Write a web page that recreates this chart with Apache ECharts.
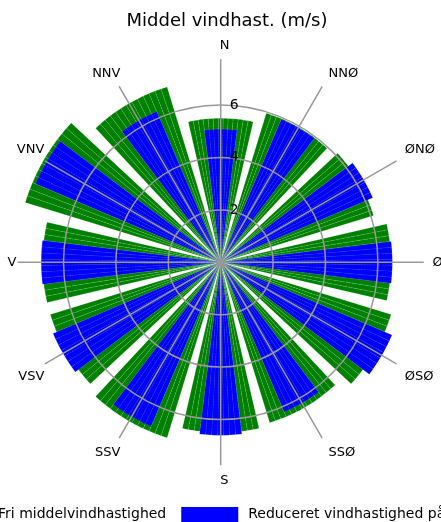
<!DOCTYPE html>
<html><head><meta charset="utf-8">
<script src="https://cdn.jsdelivr.net/npm/echarts@6/dist/echarts.min.js"></script>
<style>html,body{margin:0;padding:0;background:#fff}#c{width:441px;height:522px}</style>
</head><body><div id="c"></div>
<script>
// ---- data ----
const directions = ['N','NNØ','ØNØ','Ø','ØSØ','SSØ','S','SSV','VSV','V','VNV','NNV'];
const freeSpeed    = [5.5, 5.95, 6.1, 6.5, 6.8, 6.4, 6.5, 7.0, 6.8, 6.8, 7.8, 7.0];
const reducedSpeed = [5.08, 5.92, 6.3, 6.55, 7.1, 6.2, 6.6, 6.8, 6.95, 6.85, 7.67, 6.25];
const radiusTicks = [2, 4, 6];
const seriesNames = ['Fri middelvindhastighed', 'Reduceret vindhastighed på lokaliteten'];

// ---- layout ----
const FONT = 'DejaVu Sans';
const CX = 220.7, CY = 262.3, PX = 26.2;   // px per m/s
const BIN = 2;                               // degrees per thin sub-bar
const binCats = [];
for (let a = 0; a < 360; a += BIN) binCats.push(a);
function expand(values, half) {
  return binCats.map(a => {
    const k = Math.round(a / 30);
    const d = a - k * 30;
    return Math.abs(d) <= half ? values[k % 12] : '-';
  });
}
const topLabels = ['NNV', 'N', 'NNØ', 'VNV', 'ØNØ'];
const bottomLabels = ['VSV', 'SSV', 'S', 'SSØ', 'ØSØ'];

const chart = echarts.init(document.getElementById('c'), null, {renderer: 'canvas'});
chart.setOption({
  animation: false,
  backgroundColor: '#fff',
  title: {
    text: 'Middel vindhast. (m/s)', left: 227, top: 12, padding: 0, textAlign: 'center',
    textStyle: {fontFamily: FONT, fontSize: 18, fontWeight: 'normal', color: '#000'}
  },
  legend: {
    top: 507, left: -69, width: 900, padding: 0,
    itemWidth: 57, itemHeight: 15, itemGap: 15,
    itemStyle: {borderWidth: 0},
    textStyle: {fontFamily: FONT, fontSize: 14, color: '#000', padding: [0, 0, 0, 5]},
    data: [{name: seriesNames[0], icon: 'rect'}, {name: seriesNames[1], icon: 'rect'}]
  },
  polar: [
    {center: [CX, CY], radius: 8 * PX},
    {center: [CX, CY], radius: 7.75 * PX},
    {center: [CX + 3.8, CY], radius: 7.75 * PX}
  ],
  angleAxis: [
    {polarIndex: 0, type: 'category', data: binCats, startAngle: 90 + BIN / 2, clockwise: true,
     boundaryGap: true, show: false},
    {polarIndex: 1, type: 'value', min: 0, max: 360, interval: 30, startAngle: 90, clockwise: true, z: 10,
     axisLine: {show: false}, axisTick: {show: false}, axisLabel: {show: false},
     splitLine: {show: true, lineStyle: {color: '#999', width: 1.5}}},
    {polarIndex: 2, type: 'value', min: 0, max: 360, interval: 30, startAngle: 90, clockwise: true, z: 10,
     axisLine: {show: false}, axisTick: {show: false}, splitLine: {show: false},
     axisLabel: {margin: 5, fontFamily: FONT, fontSize: 13, color: '#000',
                 rich: {t: {fontFamily: FONT, fontSize: 13, color: '#000', padding: [0, 0, 2, 0]},
                        b: {fontFamily: FONT, fontSize: 13, color: '#000', padding: [4, 0, 0, 0]},
                        m: {fontFamily: FONT, fontSize: 13, color: '#000'}},
                 formatter: v => {
                   const s = directions[Math.round(v / 30) % 12];
                   const k = topLabels.includes(s) ? 't' : (bottomLabels.includes(s) ? 'b' : 'm');
                   return '{' + k + '|' + s + '}';
                 }}}
  ],
  radiusAxis: [
    {polarIndex: 0, type: 'value', min: 0, max: 8, show: false},
    {polarIndex: 1, type: 'value', min: 0, max: 7.75, interval: 2, z: 10,
     axisLine: {show: false}, axisTick: {show: false},
     axisLabel: {margin: -9, align: 'left', verticalAlign: 'middle', padding: [3, 0, 0, 0],
                 fontFamily: FONT, fontSize: 14, color: '#000',
                 formatter: v => radiusTicks.includes(v) ? String(v) : ''},
     splitLine: {show: true, lineStyle: {color: ['#999', '#999', '#999', '#999', 'rgba(0,0,0,0)'], width: 1.5}}},
    {polarIndex: 2, type: 'value', min: 0, max: 7.75, show: false}
  ],
  series: [
    {type: 'bar', name: seriesNames[0], coordinateSystem: 'polar', polarIndex: 0,
     data: expand(freeSpeed, 12), barGap: '-100%', barCategoryGap: '0%', z: 2,
     itemStyle: {color: '#008000', borderColor: 'rgba(200,255,200,0.35)', borderWidth: 0.5, borderType: 'dashed'}},
    {type: 'bar', name: seriesNames[1], coordinateSystem: 'polar', polarIndex: 0,
     data: expand(reducedSpeed, 6), barGap: '-100%', barCategoryGap: '0%', z: 3,
     itemStyle: {color: '#0000ff', borderColor: 'rgba(120,120,255,0.35)', borderWidth: 0.5, borderType: 'dashed'}}
  ]
});
</script>
</body></html>
